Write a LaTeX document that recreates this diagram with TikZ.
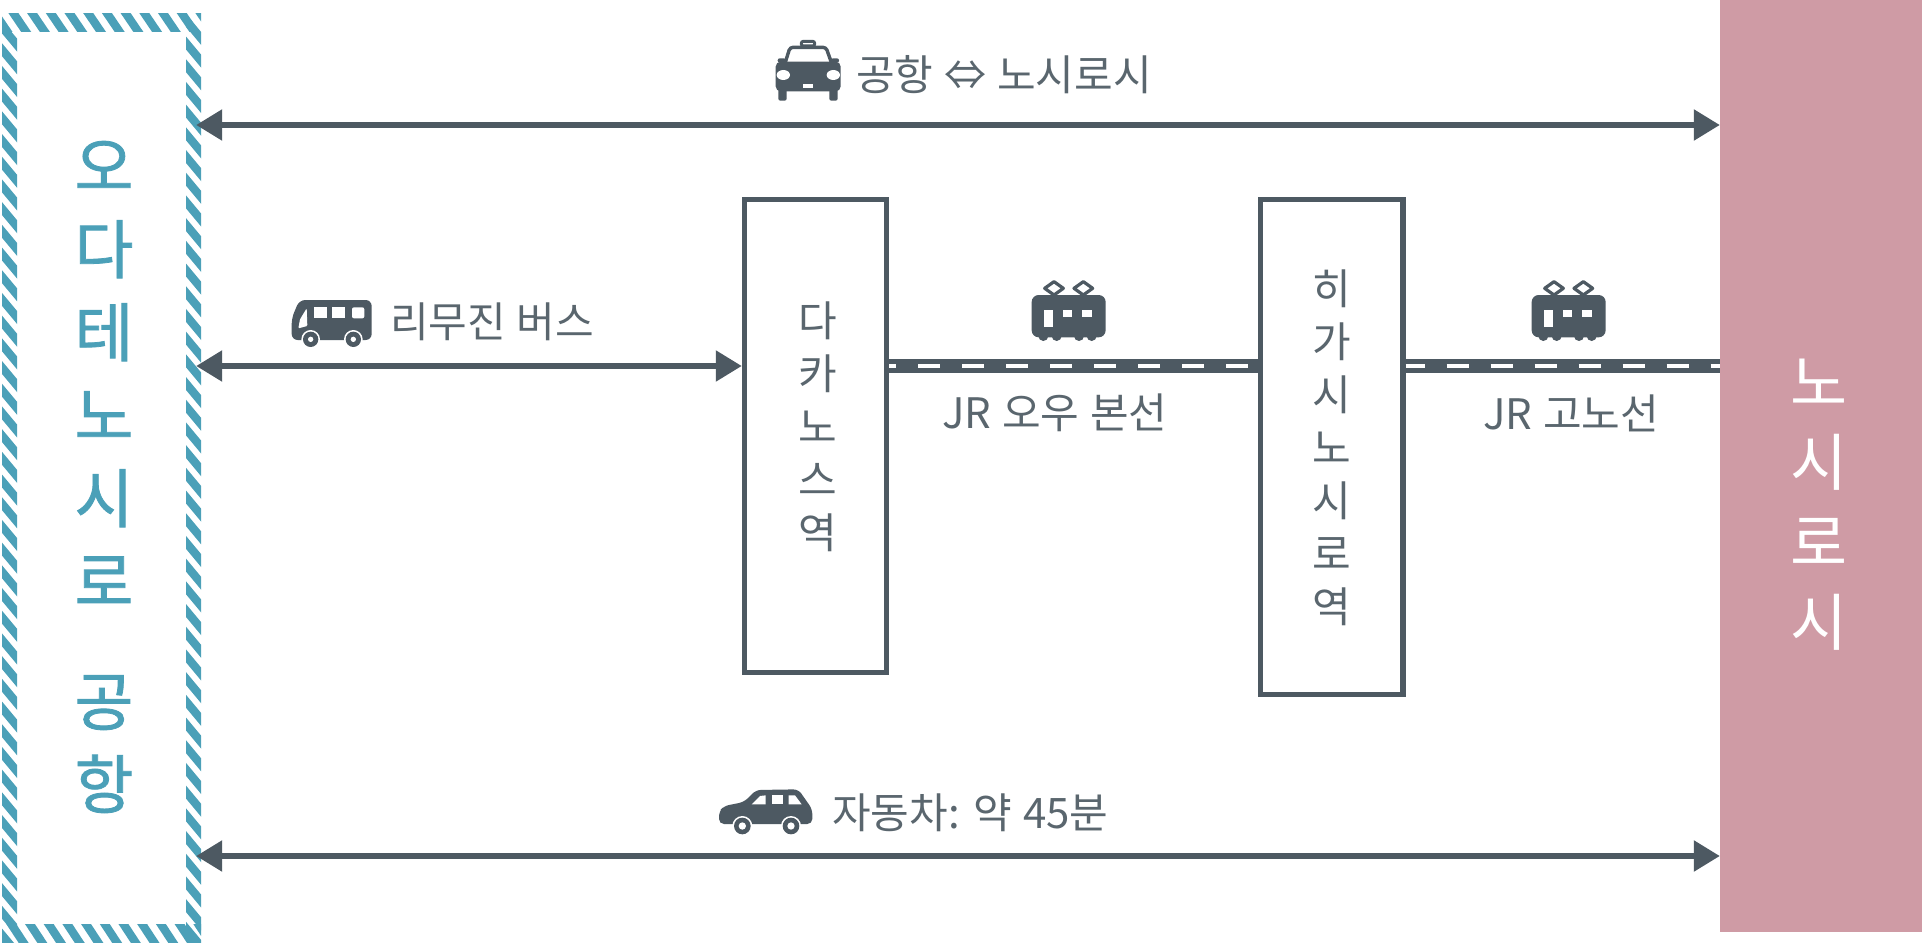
\documentclass[tikz,border=0pt]{standalone}
\usepackage{fontspec}
\setmainfont[WordSpace=1.15]{Noto Sans CJK KR}
\newfontfamily\krmed[FakeBold=1.2]{Noto Sans CJK KR}
\usetikzlibrary{arrows.meta}
\definecolor{ink}{HTML}{4D5962}
\definecolor{labelink}{HTML}{5A666E}
\definecolor{teal}{HTML}{4BA0B8}
\definecolor{rose}{HTML}{CF9BA5}
\tikzset{
  x=1pt,y=-1pt,
  hatch/.style={teal,line width=8.3pt},
  twoway/.style={ink,line width=5.5pt,{Triangle[length=26pt,width=30pt]}-{Triangle[length=26pt,width=30pt]}},
  railbase/.style={ink,line width=14pt},
  raildash/.style={white,line width=4pt,dash pattern=on 22pt off 22pt},
  stationbox/.style={draw=ink,line width=5.5pt,fill=white,inner sep=0pt},
  lab/.style={text=labelink,inner sep=0pt,anchor=west,font=\fontsize{42}{50}\selectfont},
  stationtext/.style={text=labelink,inner sep=0pt,align=center,font=\fontsize{42}{53}\selectfont},
  airporttext/.style={text=teal,inner sep=0pt,align=center,font=\krmed\fontsize{64}{83}\selectfont},
  citytext/.style={text=white,inner sep=0pt,align=center,font=\fontsize{62}{80}\selectfont},
  icon/.style={fill=ink,draw=none},
  iconhole/.style={fill=white,draw=none}
}
\newcommand{\traindraw}[1]{%
  \begin{scope}[shift={#1},scale=1/3]
    \foreach \cx in {522,610}{
      \draw[ink,line width=3.2pt,line join=round] (\cx-28,85) -- (\cx,65) -- (\cx+28,85) -- (\cx,105) -- cycle;
    }
    \foreach \cx in {490,530,597,635}{\fill[ink] (\cx,228) circle (15);}
    \fill[icon,rounded corners=7pt] (455,105) rectangle (677,232);
    \fill[iconhole] (492,150) rectangle (520,200);
    \fill[iconhole] (550,150) rectangle (577,172);
    \fill[iconhole] (607,150) rectangle (637,172);
  \end{scope}}
\begin{document}
\begin{tikzpicture}
\useasboundingbox (0,0) rectangle (1922,944);
\fill[white] (0,0) rectangle (1922,944);

% end blocks
\node[fill=rose,inner sep=0pt,minimum width=202pt,minimum height=932pt] (city) at (1821,466) {};
\node[inner sep=0pt,minimum width=194pt,minimum height=930pt] (airport) at (99,478) {};

% hatched border of the airport
\begin{scope}\clip (2,14) rectangle (17,942);
  \foreach \i in {0,...,40}{\draw[hatch] (-3,{27+22.7*\i-6}) -- (22,{27+22.7*\i+24});}
\end{scope}
\begin{scope}\clip (186,14) rectangle (201,942);
  \foreach \i in {-1,...,40}{\draw[hatch] (181,{43+22.7*\i-6}) -- (206,{43+22.7*\i+24});}
\end{scope}
\begin{scope}\clip (2,14) rectangle (201,32);
  \foreach \i in {-2,...,11}{\draw[hatch] ({13.3+18.7*\i-4},7) -- ({13.3+18.7*\i+17},38);}
\end{scope}
\begin{scope}\clip (2,924) rectangle (201,942);
  \foreach \i in {-2,...,11}{\draw[hatch] ({30+18.7*\i-4},918) -- ({30+18.7*\i+17},950);}
\end{scope}

% named ends of connectors
\coordinate (topL) at (airport.east |- 0,125);
\coordinate (topR) at (city.west |- 0,125);
\coordinate (midL) at (airport.east |- 0,366);
\coordinate (botL) at (airport.east |- 0,856);
\coordinate (botR) at (city.west |- 0,856);
\coordinate (railR) at (city.west |- 0,366);

% stations
\node[stationbox,minimum width=142pt,minimum height=473pt] (taka) at (815.5,436) {};
\node[stationbox,minimum width=142.5pt,minimum height=495pt] (higa) at (1331.5,447) {};
\coordinate (takaW) at (taka.west |- 0,366);
\coordinate (takaE) at (taka.east |- 0,366);
\coordinate (higaW) at (higa.west |- 0,366);
\coordinate (higaE) at (higa.east |- 0,366);

% rails
\draw[railbase] (takaE) -- (higaW);
\draw[raildash,dash phase=15pt] (takaE) -- (higaW);
\draw[railbase] (higaE) -- (railR);
\draw[raildash,dash phase=3pt] (higaE) -- (railR);

% arrows
\draw[twoway] (topL) -- (topR);
\draw[twoway] (midL) -- (takaW);
\draw[twoway] (botL) -- (botR);

% texts
\node[airporttext] (airporttxt) at (104,477) {오\\다\\테\\노\\시\\로\\[37pt]공\\항};
\node[citytext] (citytxt) at (1819,505) {노\\시\\로\\시};
\node[stationtext] (takatxt) at (818,427) {다\\카\\노\\스\\역};
\node[stationtext] (higatxt) at (1332,448) {히\\가\\시\\노\\시\\로\\역};
\node[lab] (taxilab) at (856,75) {공항 ⇔ 노시로시};
\node[lab] (buslab) at (390,322) {리무진 버스};
\node[lab] (line1) at (942,413) {JR 오우 본선};
\node[lab] (line2) at (1483,413) {JR 고노선};
\node[lab] (carlab) at (832,813) {자동차: 약 45분};

% taxi icon
\begin{scope}[shift={(740,20)},scale=1/3]
  \draw[ink,line width=3pt,rounded corners=2pt] (184,64) rectangle (224,78);
  \draw[ink,line width=3.4pt,fill=white,rounded corners=3pt] (135,130) -- (150,82) -- (258,82) -- (275,130);
  \fill[icon,rounded corners=2pt] (113,115) rectangle (137,128);
  \fill[icon,rounded corners=2pt] (273,115) rectangle (297,128);
  \fill[icon,rounded corners=2pt] (115,205) rectangle (140,242);
  \fill[icon,rounded corners=2pt] (268,205) rectangle (293,242);
  \fill[icon,rounded corners=5pt] (107,125) rectangle (302,214);
  \fill[iconhole] (130,165) ellipse (20 and 15);
  \fill[iconhole] (280,165) ellipse (20 and 15);
  \fill[iconhole] (190,192) rectangle (218,205);
\end{scope}

% bus icon
\begin{scope}[shift={(270,280)},scale=1/3]
  \fill[icon,rounded corners=6pt] (65,180) -- (65,115) -- (88,60) -- (305,60) -- (305,180) -- cycle;
  \fill[iconhole,rounded corners=1pt] (85,145) -- (90,118) -- (110,85) -- (112,138) -- cycle;
  \fill[iconhole] (132,82) rectangle (170,115);
  \fill[iconhole] (186,82) rectangle (226,115);
  \fill[iconhole,rounded corners=2pt] (246,82) rectangle (283,115);
  \foreach \cx in {122,250}{
    \fill[white] (\cx,178) circle (28);
    \fill[ink] (\cx,178) circle (23);
    \fill[white] (\cx,178) circle (8);
  }
\end{scope}

% train icons
\traindraw{(880,260)}
\traindraw{(1380,260)}

% car icon
\begin{scope}[shift={(700,770)},scale=1/3]
  \fill[icon,rounded corners=5pt] (57,162) -- (57,125) -- (72,108) -- (132,96) -- (168,60) -- (295,58) -- (337,118) -- (337,162) -- cycle;
  \fill[iconhole] (155,103) -- (180,78) -- (197,76) -- (197,103) -- cycle;
  \fill[iconhole] (215,76) rectangle (248,103);
  \fill[iconhole] (266,76) -- (285,76) -- (305,103) -- (266,103) -- cycle;
  \foreach \cx in {127,273}{
    \fill[white] (\cx,168) circle (30);
    \fill[ink] (\cx,168) circle (25);
    \fill[white] (\cx,168) circle (11);
  }
\end{scope}
\end{tikzpicture}
\end{document}
